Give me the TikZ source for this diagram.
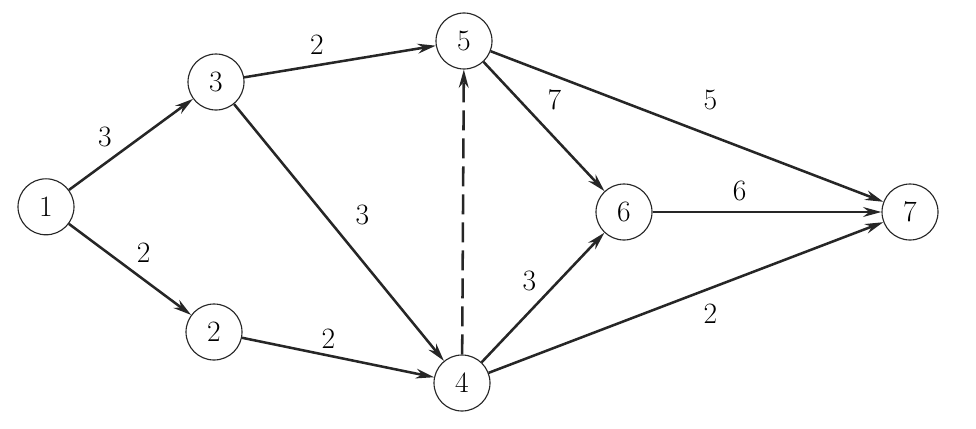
\documentclass[tikz,border=0pt]{standalone}
\usetikzlibrary {
  arrows.meta,
  positioning,
}
\tikzset{
  event/.style = {
    circle,
    draw = black!85,
    thick,
    minimum size = 1.4cm,
    inner sep = 0pt,
    font = \fontsize{21}{24}\selectfont
  },
  line/.style = {
    -{Stealth[length = 13pt, width = 7pt]},
    line width = 1.8pt,
    draw = black!85
  },
  dummy/.style = {
    line,
    dash pattern = on 0.5cm off 0.2cm
  },
  weight/.style = {
    font = \fontsize{21}{24}\selectfont,
    inner sep = 4pt
  },
}

\begin{document}
\begin{tikzpicture}
  \useasboundingbox (0, 0) rectangle (24.4, 10.7);
  \node[event] (1) at (1.15, 5.53) {1};
  \node[event] (3) at (5.4, 8.65) {3};
  \node[event] (2) at (5.35, 2.4) {2};
  \node[event] (5) at (11.6, 9.675) {5};
  \node[event] (4) at (11.55, 1.125) {4};
  \node[event] (6) at (15.6, 5.4) {6};
  \node[event] (7) at (22.75, 5.4) {7};
  \draw[line] (1) to node[weight, pos = .4, above left] {3} (3);
  \draw[line] (1) to node[weight, pos = .5, above right] {2} (2);
  \draw[line] (3) to node[weight, pos = .38, above, inner sep = 7pt] {2} (5);
  \draw[line] (3) to node[weight, pos = .52, above right, inner sep = 8pt] {3} (4);
  \draw[line] (2) to node[weight, pos = .45, above] {2} (4);
  \draw[dummy] (4) to (5);
  \draw[line] (5) to node[weight, pos = .45, above right, inner sep = 6pt] {7} (6);
  \draw[line] (5) to node[weight, pos = .5, above right, inner sep = 11pt] {5} (7);
  \draw[line] (6) to node[weight, pos = .38, above, inner sep = 7pt] {6} (7);
  \draw[line] (4) to node[weight, pos = .5, above left] {3} (6);
  \draw[line] (4) to node[weight, pos = .52, below right, inner sep = 6pt] {2} (7);
\end{tikzpicture}
\end{document}
